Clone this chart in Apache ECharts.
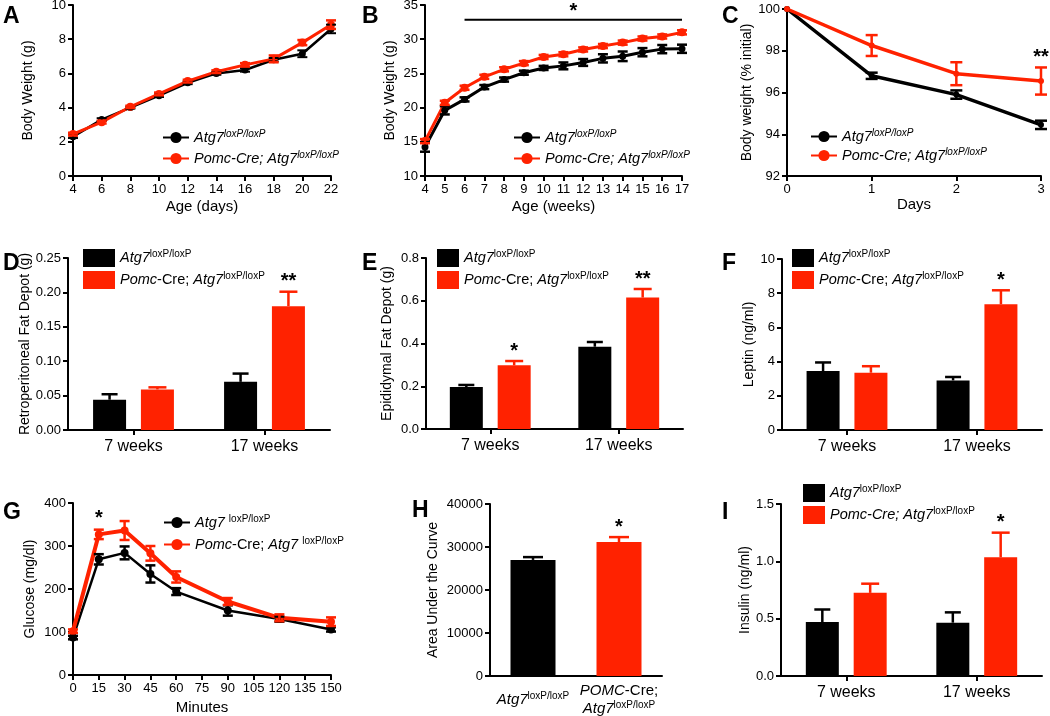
<!DOCTYPE html>
<html><head><meta charset="utf-8">
<script src="https://cdn.jsdelivr.net/npm/echarts@6/dist/echarts.min.js"></script>
<style>html,body{margin:0;padding:0;background:#fff}#c{width:1050px;height:716px}</style>
</head><body><div id="c"></div>
<script>
// ---------- DATA ----------
// A: body weight pre-weaning
const aDays = [4,6,8,10,12,14,16,18,20,22];
const aCtrl = [2.3,3.3,4.0,4.7,5.45,6.0,6.2,6.8,7.15,8.6];
const aCtrlErr = [0.08,0.08,0.06,0.08,0.08,0.08,0.1,0.1,0.2,0.25];
const aKo = [2.45,3.15,4.05,4.8,5.55,6.1,6.5,6.85,7.8,8.85];
const aKoErr = [0.08,0.08,0.06,0.08,0.08,0.08,0.1,0.2,0.15,0.25];
// B: body weight weeks
const bWeeks = [4,5,6,7,8,9,10,11,12,13,14,15,16,17];
const bCtrl = [14.25,19.6,21.2,23.0,24.1,25.1,25.8,26.1,26.6,27.2,27.5,28.1,28.55,28.6];
const bCtrlErr = [0.7,0.6,0.3,0.3,0.3,0.3,0.3,0.5,0.5,0.6,0.7,0.6,0.6,0.6];
const bKo = [15.1,20.7,22.9,24.5,25.6,26.5,27.4,27.8,28.5,29.0,29.5,30.1,30.4,31.0];
const bKoErr = [0.3,0.3,0.3,0.3,0.3,0.3,0.3,0.3,0.3,0.3,0.3,0.3,0.3,0.3];
// C: body weight % initial (fasting)
const cDays = [0,1,2,3];
const cCtrl = [100,96.8,95.9,94.45];
const cCtrlErr = [0,0.15,0.2,0.2];
const cKo = [100,98.25,96.9,96.55];
const cKoErr = [0,0.5,0.55,0.65];
// Bar categories
const ageCats = ['7 weeks','17 weeks'];
// D: retroperitoneal fat
const dCtrl = [0.044,0.070]; const dCtrlErr = [0.008,0.012];
const dKo = [0.059,0.180];   const dKoErr = [0.003,0.021];
const dStars = ['','**'];
// E: epididymal fat
const eCtrl = [0.196,0.385]; const eCtrlErr = [0.01,0.022];
const eKo = [0.298,0.615];   const eKoErr = [0.02,0.04];
const eStars = ['*','**'];
// F: leptin
const fCtrl = [3.45,2.9]; const fCtrlErr = [0.5,0.2];
const fKo = [3.35,7.35];  const fKoErr = [0.38,0.82];
const fStars = ['','*'];
// G: glucose tolerance
const gMin = [0,15,30,45,60,90,120,150];
const gCtrl = [87,269,284,235,194,150,130,106];
const gCtrlErr = [4,12,15,20,8,12,6,5];
const gKo = [102,327,336,283,228,171,133,124];
const gKoErr = [4,11,22,17,13,8,8,10];
// H: AUC
const hCats = ['ctrl','ko'];
const hVals = [27000,31150]; const hErr = [650,1150];
const hStars = ['','*'];
// I: insulin
const iCtrl = [0.47,0.465]; const iCtrlErr = [0.11,0.09];
const iKo = [0.725,1.035];  const iKoErr = [0.08,0.215];
const iStars = ['','*'];
// significance annotations (data coordinates)
const bSig = [[6, 32.85, 17]];
const bStar = [[11.5, 34.0]]; const bStarTxt = ['*'];
const cStar = [[3, 97.7]]; const cStarTxt = ['**'];
const gStar = [[15, 363]]; const gStarTxt = ['*'];

// ---------- STYLE ----------
const F = '"Liberation Sans", Arial, Helvetica, sans-serif';
const BLACK = '#000000', RED = '#ff2200';
const rich = {
  n:{fontFamily:F,fontSize:14.5,color:'#000',lineHeight:17},
  i:{fontFamily:F,fontSize:14.5,fontStyle:'italic',color:'#000',lineHeight:17},
  s:{fontFamily:F,fontSize:10,color:'#000',verticalAlign:'top',lineHeight:10},
  si:{fontFamily:F,fontSize:10,fontStyle:'italic',color:'#000',verticalAlign:'top',lineHeight:10}
};
const LABELS = {
  'A-ctrl':'{i|Atg7}{si|loxP/loxP}', 'A-ko':'{i|Pomc-Cre; Atg7}{si|loxP/loxP}',
  'B-ctrl':'{i|Atg7}{si|loxP/loxP}', 'B-ko':'{i|Pomc-Cre; Atg7}{si|loxP/loxP}',
  'C-ctrl':'{i|Atg7}{si|loxP/loxP}', 'C-ko':'{i|Pomc-Cre; Atg7}{si|loxP/loxP}',
  'D-ctrl':'{i|Atg7}{s|loxP/loxP}', 'D-ko':'{i|Pomc}{n|-Cre; }{i|Atg7}{s|loxP/loxP}',
  'E-ctrl':'{i|Atg7}{s|loxP/loxP}', 'E-ko':'{i|Pomc}{n|-Cre; }{i|Atg7}{s|loxP/loxP}',
  'F-ctrl':'{i|Atg7}{s|loxP/loxP}', 'F-ko':'{i|Pomc}{n|-Cre; }{i|Atg7}{s|loxP/loxP}',
  'G-ctrl':'{i|Atg7 }{s|loxP/loxP}', 'G-ko':'{i|Pomc}{n|-Cre; }{i|Atg7 }{s|loxP/loxP}',
  'I-ctrl':'{i|Atg7}{s|loxP/loxP}', 'I-ko':'{i|Pomc-Cre; Atg7}{s|loxP/loxP}'
};
const H_LABELS = ['{i|Atg7}{s|loxP/loxP}', '{i|POMC}{n|-Cre;}\n{i|Atg7}{s|loxP/loxP}'];

const grids = [
 {left:73, top:5, width:258, height:171},
 {left:425, top:5, width:257, height:171},
 {left:787, top:9, width:254, height:167},
 {left:68, top:258, width:262, height:172},
 {left:426, top:258, width:257, height:171},
 {left:782, top:259, width:260, height:171},
 {left:73, top:503, width:258, height:172},
 {left:490, top:504, width:172, height:172},
 {left:781, top:504, width:261, height:172}
].map(g=>Object.assign({containLabel:false, outerBoundsMode:'none'}, g));

const AX = {color:'#000', width:2};
function yAx(gi,min,max,interval,name,nameGap,dec){
  return {type:'value',gridIndex:gi,min,max,interval,name,nameLocation:'middle',nameGap,
    nameTextStyle:{fontFamily:F,fontSize:14,color:'#000'},
    axisLine:{show:true,onZero:false,lineStyle:AX},
    axisTick:{show:true,length:5,lineStyle:AX},
    axisLabel:{color:'#000',fontFamily:F,fontSize:13,margin:7,formatter:v=>v.toFixed(dec)},
    splitLine:{show:false}};
}
function xVal(gi,min,max,interval,name,nameGap){
  return {type:'value',gridIndex:gi,min,max,interval,name,nameLocation:'middle',nameGap,
    nameTextStyle:{fontFamily:F,fontSize:15,color:'#000'},
    axisLine:{show:true,onZero:false,lineStyle:AX},
    axisTick:{show:true,length:5,lineStyle:AX},
    axisLabel:{color:'#000',fontFamily:F,fontSize:13,margin:7},
    splitLine:{show:false}};
}
function xCat(gi,cats,tick){
  return {type:'category',gridIndex:gi,data:cats,boundaryGap:true,
    axisLine:{show:true,onZero:false,lineStyle:AX},
    axisTick:{show:tick,alignWithLabel:true,length:5,lineStyle:AX},
    axisLabel:{color:'#000',fontFamily:F,fontSize:16,margin:9,interval:0},
    splitLine:{show:false}};
}

function lineS(name,gi,xs,ys,color,lw,sym){
  return {name,type:'line',xAxisIndex:gi,yAxisIndex:gi,data:xs.map((x,i)=>[x,ys[i]]),
    symbol:'circle',symbolSize:sym,showSymbol:true,lineStyle:{color,width:lw},itemStyle:{color},
    animation:false,z:3};
}
function errS(gi,xs,ys,es,color,capHalf,lw){
  return {type:'custom',xAxisIndex:gi,yAxisIndex:gi,silent:true,z:4,animation:false,
    data:xs.map((x,i)=>[x,ys[i],es[i]]),
    renderItem:(p,api)=>{
      const x=api.value(0),y=api.value(1),e=api.value(2);
      if(!e) return null;
      const hi=api.coord([x,y+e]), lo=api.coord([x,y-e]); const cx=hi[0];
      const st={stroke:color,lineWidth:lw};
      return {type:'group',children:[
        {type:'line',shape:{x1:cx,y1:hi[1],x2:cx,y2:lo[1]},style:st},
        {type:'line',shape:{x1:cx-capHalf,y1:hi[1],x2:cx+capHalf,y2:hi[1]},style:st},
        {type:'line',shape:{x1:cx-capHalf,y1:lo[1],x2:cx+capHalf,y2:lo[1]},style:st}]};
    }};
}
const BW = 33, GAP = 0.45;
function barS(name,gi,vals,color,bw){
  return {name,type:'bar',xAxisIndex:gi,yAxisIndex:gi,data:vals,barWidth:bw,barGap:(GAP*100)+'%',
    itemStyle:{color},animation:false,z:2};
}
// colors: single colour or per-item array
function barErrS(gi,vals,errs,colors,offset,stars,capHalf){
  return {type:'custom',xAxisIndex:gi,yAxisIndex:gi,silent:true,z:5,animation:false,
    data:vals.map((v,i)=>[i,v,errs[i]]),
    renderItem:(p,api)=>{
      const ci=api.value(0),v=api.value(1),e=api.value(2);
      const base=api.coord([ci,v]), top=api.coord([ci,v+e]);
      const color=Array.isArray(colors)?colors[p.dataIndex]:colors;
      const cx=base[0]+offset; const st={stroke:color,lineWidth:2.5};
      const ch=[
        {type:'line',shape:{x1:cx,y1:base[1],x2:cx,y2:top[1]},style:st},
        {type:'line',shape:{x1:cx-capHalf,y1:top[1],x2:cx+capHalf,y2:top[1]},style:st}];
      const s=stars?stars[p.dataIndex]:'';
      if(s) ch.push({type:'text',x:cx,y:top[1]-10,style:{text:s,fill:'#000',font:'bold 20px '+F,align:'center',verticalAlign:'middle'}});
      return {type:'group',children:ch};
    }};
}
function annotS(gi,pts,txt){
  return {type:'custom',xAxisIndex:gi,yAxisIndex:gi,silent:true,z:10,animation:false,data:pts,
    renderItem:(p,api)=>{const c=api.coord([api.value(0),api.value(1)]);
      return {type:'text',x:c[0],y:c[1],style:{text:txt[p.dataIndex],fill:'#000',font:'bold 20px '+F,align:'center',verticalAlign:'middle'}};}};
}
function sigLineS(gi,pts){
  return {type:'custom',xAxisIndex:gi,yAxisIndex:gi,silent:true,z:10,animation:false,data:pts,
    renderItem:(p,api)=>{const a=api.coord([api.value(0),api.value(1)]), b=api.coord([api.value(2),api.value(1)]);
      return {type:'line',shape:{x1:a[0],y1:a[1],x2:b[0],y2:b[1]},style:{stroke:'#000',lineWidth:2}};}};
}
function lineLeg(names,left,top,gap){
  return {data:names,left,top,orient:'vertical',itemWidth:26,itemHeight:14,itemGap:gap,selectedMode:false,
    padding:0,textStyle:{fontFamily:F,fontSize:14.5,color:'#000',rich},formatter:n=>LABELS[n]};
}
function barLeg(names,left,top,w){
  return {data:names,left,top,orient:'vertical',icon:'rect',itemWidth:w,itemHeight:18,itemGap:4,selectedMode:false,
    padding:0,textStyle:{fontFamily:F,fontSize:14.5,color:'#000',rich},formatter:n=>LABELS[n]};
}
const OFF = BW*(1+GAP)/2;

const hAxis = xCat(7,[{value:hCats[0],textStyle:{padding:[9,0,0,0]}},{value:hCats[1]}],false);
hAxis.axisLabel = {color:'#000',margin:6,interval:0,formatter:(v,i)=>H_LABELS[i],rich:{
  n:{fontFamily:F,fontSize:15,color:'#000',lineHeight:18},
  i:{fontFamily:F,fontSize:15,fontStyle:'italic',color:'#000',lineHeight:18},
  s:{fontFamily:F,fontSize:10,color:'#000',verticalAlign:'top',lineHeight:10}}};

const option = {
  animation:false,
  backgroundColor:'#fff',
  textStyle:{fontFamily:F},
  grid: grids,
  xAxis: [
    xVal(0,4,22,2,'Age (days)',23),
    xVal(1,4,17,1,'Age (weeks)',23),
    xVal(2,0,3,1,'Days',21),
    xCat(3,ageCats,true),
    xCat(4,ageCats,true),
    xCat(5,ageCats,true),
    xVal(6,0,150,15,'Minutes',25),
    hAxis,
    xCat(8,ageCats,true)
  ],
  yAxis: [
    yAx(0,0,10,2,'Body Weight (g)',38,0),
    yAx(1,10,35,5,'Body Weight (g)',28,0),
    yAx(2,92,100,2,'Body weight (% initial)',30,0),
    yAx(3,0,0.25,0.05,'Retroperitoneal Fat Depot (g)',33,2),
    yAx(4,0,0.8,0.2,'Epididymal Fat Depot (g)',32,1),
    yAx(5,0,10,2,'Leptin (ng/ml)',25,0),
    yAx(6,0,400,100,'Glucose (mg/dl)',36,0),
    yAx(7,0,40000,10000,'Area Under the Curve',50,0),
    yAx(8,0,1.5,0.5,'Insulin (ng/ml)',25,1)
  ],
  legend: [
    lineLeg(['A-ctrl','A-ko'],162,129,5),
    lineLeg(['B-ctrl','B-ko'],513,129,5),
    lineLeg(['C-ctrl','C-ko'],810,128,3),
    barLeg(['D-ctrl','D-ko'],83,249,32),
    barLeg(['E-ctrl','E-ko'],437,249,22),
    barLeg(['F-ctrl','F-ko'],792,249,22),
    lineLeg(['G-ctrl','G-ko'],163,514,6),
    barLeg(['I-ctrl','I-ko'],803,484,22)
  ],
  graphic: [
    ['A',3,5],['B',362,5],['C',722,5],['D',3,252],['E',362,252],['F',722,252],['G',3,501],['H',412,499],['I',722,501]
  ].map(([t,l,tp])=>({type:'text',left:l,top:tp,style:{text:t,font:'bold 23px '+F,fill:'#000'}})),
  series: [
    // A
    lineS('A-ctrl',0,aDays,aCtrl,BLACK,2.5,7), errS(0,aDays,aCtrl,aCtrlErr,BLACK,5,2),
    lineS('A-ko',0,aDays,aKo,RED,3,8), errS(0,aDays,aKo,aKoErr,RED,5,2.5),
    // B
    lineS('B-ctrl',1,bWeeks,bCtrl,BLACK,3,7), errS(1,bWeeks,bCtrl,bCtrlErr,BLACK,5,2.5),
    lineS('B-ko',1,bWeeks,bKo,RED,3,8), errS(1,bWeeks,bKo,bKoErr,RED,5,2.5),
    sigLineS(1,bSig), annotS(1,bStar,bStarTxt),
    // C
    lineS('C-ctrl',2,cDays,cCtrl,BLACK,3.5,6), errS(2,cDays,cCtrl,cCtrlErr,BLACK,6,2.5),
    lineS('C-ko',2,cDays,cKo,RED,3.5,6), errS(2,cDays,cKo,cKoErr,RED,6,2.5),
    annotS(2,cStar,cStarTxt),
    // D
    barS('D-ctrl',3,dCtrl,BLACK,BW), barS('D-ko',3,dKo,RED,BW),
    barErrS(3,dCtrl,dCtrlErr,BLACK,-OFF,null,8), barErrS(3,dKo,dKoErr,RED,OFF,dStars,9),
    // E
    barS('E-ctrl',4,eCtrl,BLACK,BW), barS('E-ko',4,eKo,RED,BW),
    barErrS(4,eCtrl,eCtrlErr,BLACK,-OFF,null,8), barErrS(4,eKo,eKoErr,RED,OFF,eStars,9),
    // F
    barS('F-ctrl',5,fCtrl,BLACK,BW), barS('F-ko',5,fKo,RED,BW),
    barErrS(5,fCtrl,fCtrlErr,BLACK,-OFF,null,8), barErrS(5,fKo,fKoErr,RED,OFF,fStars,9),
    // G
    lineS('G-ctrl',6,gMin,gCtrl,BLACK,2.5,8), errS(6,gMin,gCtrl,gCtrlErr,BLACK,5,2.5),
    lineS('G-ko',6,gMin,gKo,RED,4,8), errS(6,gMin,gKo,gKoErr,RED,5,2.5),
    annotS(6,gStar,gStarTxt),
    // H
    {name:'H',type:'bar',xAxisIndex:7,yAxisIndex:7,barWidth:45,animation:false,z:2,
      data:hVals.map((v,i)=>({value:v,itemStyle:{color:i===0?BLACK:RED}}))},
    barErrS(7,hVals,hErr,[BLACK,RED],0,hStars,10),
    // I
    barS('I-ctrl',8,iCtrl,BLACK,BW), barS('I-ko',8,iKo,RED,BW),
    barErrS(8,iCtrl,iCtrlErr,BLACK,-OFF,null,8), barErrS(8,iKo,iKoErr,RED,OFF,iStars,9)
  ]
};
const chart = echarts.init(document.getElementById('c'), null, {renderer:'canvas'});
chart.setOption(option);
</script></body></html>
